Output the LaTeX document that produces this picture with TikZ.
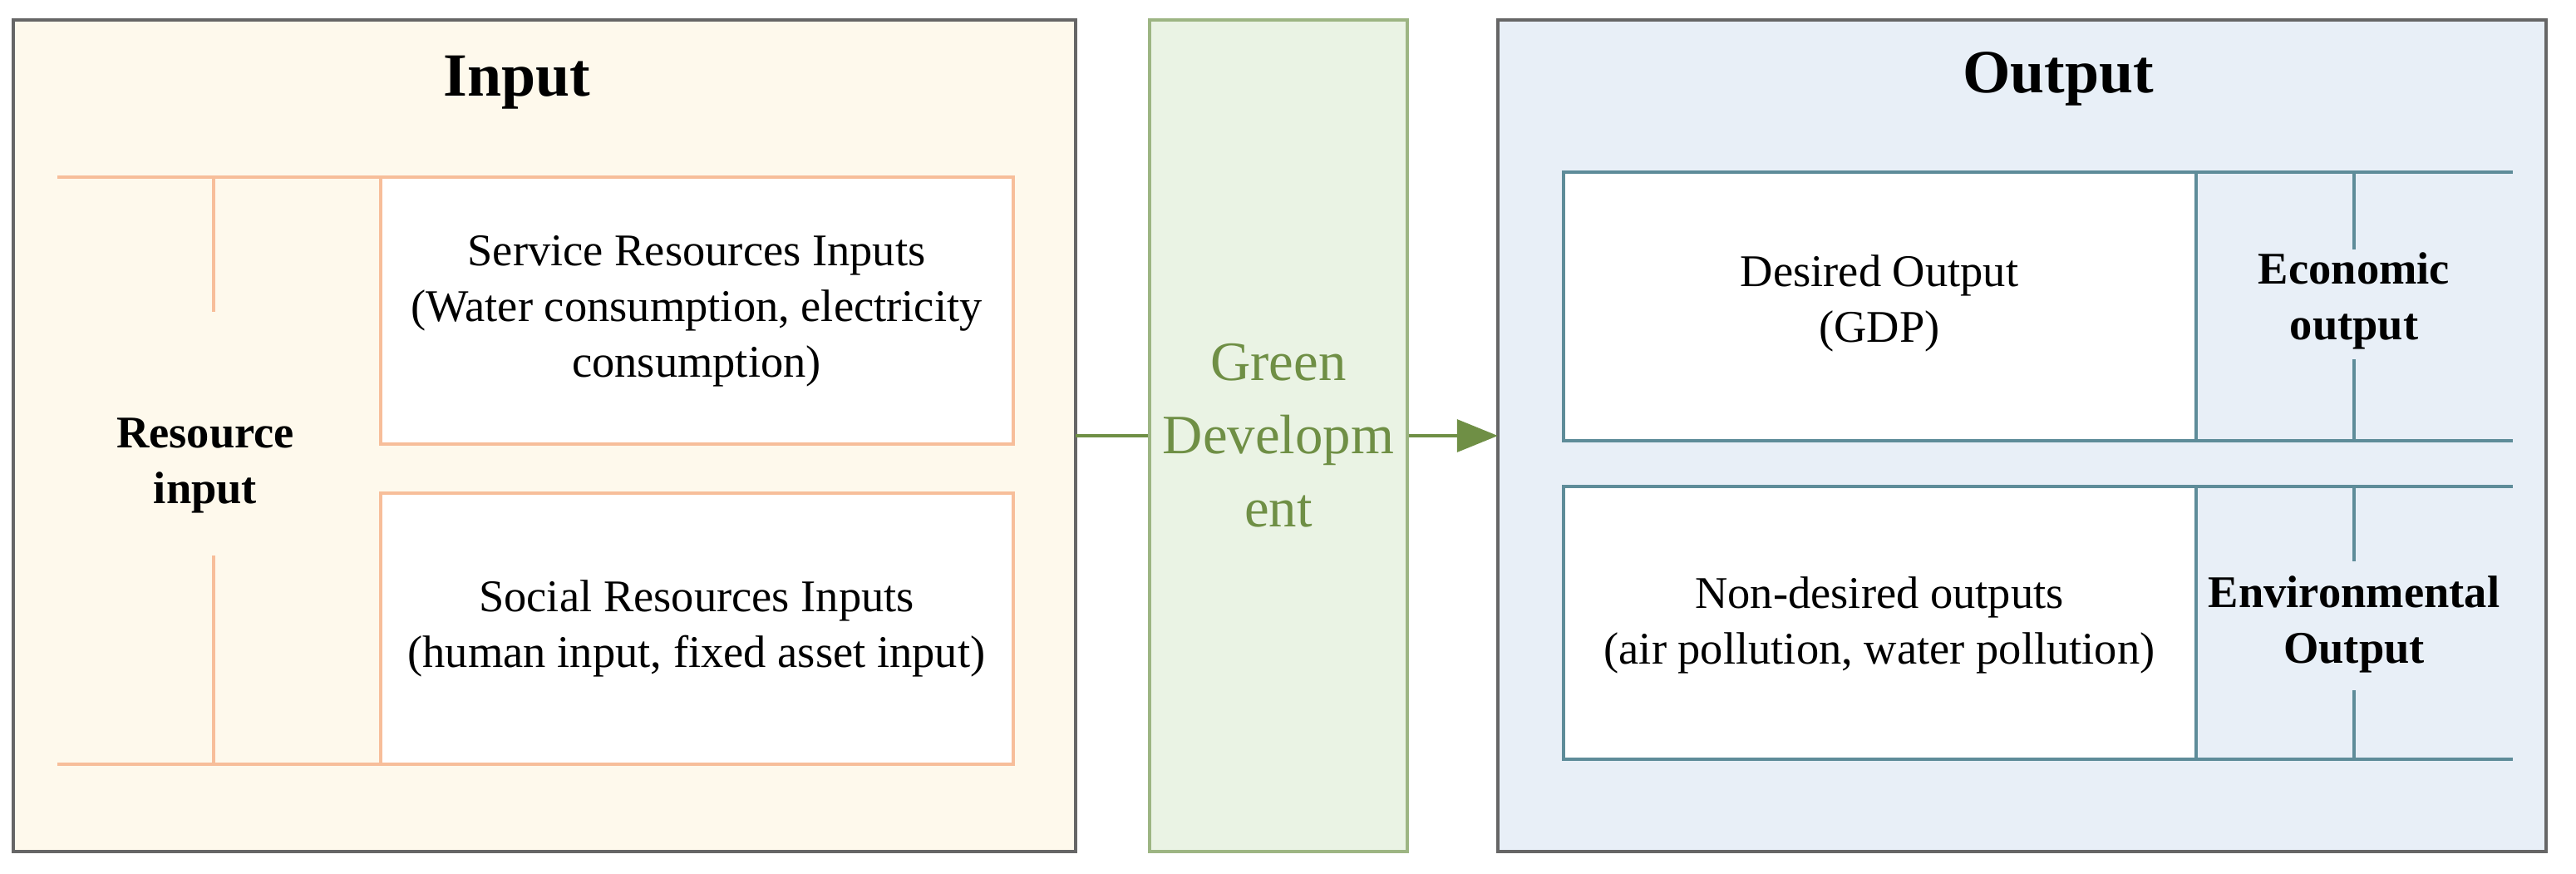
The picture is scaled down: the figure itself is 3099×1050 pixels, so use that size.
\documentclass[tikz,border=0pt]{standalone}
\usepackage{fontspec}
\setmainfont{Liberation Serif}
\usetikzlibrary{arrows.meta}
\definecolor{lfill}{HTML}{FEF9EC}
\definecolor{lline}{HTML}{F7BE9A}
\definecolor{rfill}{HTML}{E8EFF7}
\definecolor{rline}{HTML}{5E8C99}
\definecolor{gfill}{HTML}{EAF3E4}
\definecolor{gline}{HTML}{9DB583}
\definecolor{garrow}{HTML}{6F8F45}
\begin{document}
\begin{tikzpicture}[x=0.01cm,y=-0.01cm,
  panel/.style={draw=black!60,line width=1.2pt},
  wbox/.style={fill=white,draw=#1,line width=0.9pt},
  txt/.style={font=\fontsize{15.5}{19}\selectfont,align=center},
  btxt/.style={font=\bfseries\fontsize{15.5}{19}\selectfont,align=center},
  ttl/.style={font=\bfseries\fontsize{21}{25}\selectfont}]
\useasboundingbox (0,0) rectangle (3099,1050);
% panels
\draw[panel,fill=lfill] (16,24) rectangle (1294,1024);
\node[draw=gline,fill=gfill,line width=0.9pt,minimum width=310*0.01cm,minimum height=1000*0.01cm] (g) at (1538,524) {};
\draw[panel,fill=rfill] (1802,24) rectangle (3063,1024);
\node[ttl] (tin) at (622,99) {Input};
\node[ttl] (tout) at (2476,95) {Output};
% left structure
\draw[lline,line width=1.2pt] (69,213) -- (458,213) (69,919) -- (458,919);
\draw[lline,line width=0.9pt] (257,213) -- (257,375) (257,668) -- (257,919);
\node[btxt] (ri) at (247,560) {Resource\\input};
\draw[wbox=lline] (458,213) rectangle (1219,534);
\draw[wbox=lline] (458,593) rectangle (1219,919);
\node[txt] (s1) at (838,374) {Service Resources Inputs\\(Water consumption, electricity\\consumption)};
\node[txt] (s2) at (838,756) {Social Resources Inputs\\(human input, fixed asset input)};
% right structure
\draw[wbox=rline] (1881,207) rectangle (2642,530);
\draw[wbox=rline] (1881,585) rectangle (2642,913);
\draw[rline,line width=1.2pt] (2642,207) -- (3023,207) (2642,530) -- (3023,530)
  (2642,585) -- (3023,585) (2642,913) -- (3023,913);
\draw[rline,line width=0.9pt] (2832,207) -- (2832,300) (2832,432) -- (2832,530)
  (2832,585) -- (2832,675) (2832,830) -- (2832,913);
\node[txt] (d1) at (2261,365) {Desired Output\\(GDP)};
\node[txt] (d2) at (2261,752) {Non-desired outputs\\(air pollution, water pollution)};
\node[btxt] (eo) at (2832,362) {Economic\\output};
\node[btxt] (en) at (2832,751) {Environmental\\Output};
% green development
\node[font=\fontsize{19}{25}\selectfont,text=garrow,align=center] (gt) at (1538,524) {Green\\Developm\\ent};
\coordinate (lr) at (1294,524);
\coordinate (rl) at (1802,524);
\draw[garrow,line width=1.3pt] (lr) -- (g.west);
\draw[garrow,line width=1.3pt,-{Triangle[length=14pt,width=11pt]}] (g.east) -- (rl);
\end{tikzpicture}
\end{document}
